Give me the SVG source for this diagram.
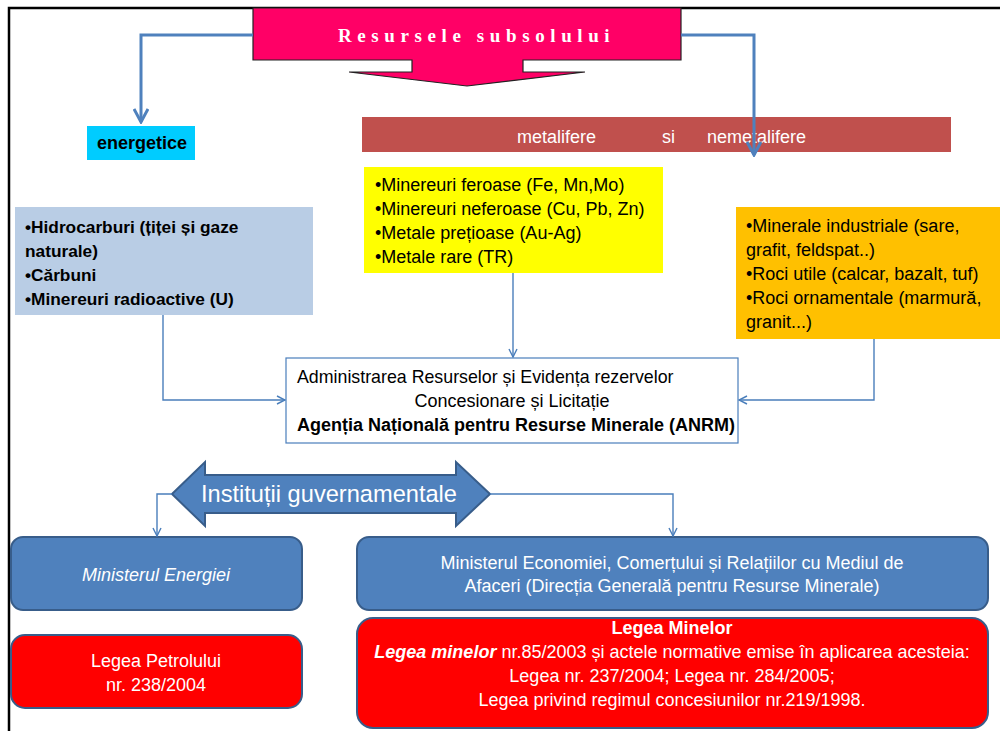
<svg xmlns="http://www.w3.org/2000/svg" width="1000" height="731" viewBox="0 0 1000 731">
  <defs>
    <style>
      .t { font-family: "Liberation Sans", Arial, sans-serif; font-size: 18px; fill: #000; }
      .w { fill: #fff; }
      .b { font-weight: bold; }
      .i { font-style: italic; }
      .mid { text-anchor: middle; }
      .link { fill: none; stroke: #4a7ebb; stroke-width: 1.4; }
      .thick { fill: none; stroke: #4f81bd; stroke-width: 3; }
      .min { fill: #4f81bd; stroke: #385d8a; stroke-width: 2; }
      .law { fill: #ff0000; stroke: #385d8a; stroke-width: 2; }
    </style>
    <marker id="ah" viewBox="0 0 10 10" refX="9" refY="5" markerWidth="10" markerHeight="10" markerUnits="userSpaceOnUse" orient="auto">
      <path d="M1,1 L9,5 L1,9" fill="none" stroke="#4a7ebb" stroke-width="1.4"/>
    </marker>
    <marker id="ahb" viewBox="0 0 16 16" refX="14" refY="8" markerWidth="16" markerHeight="16" markerUnits="userSpaceOnUse" orient="auto">
      <path d="M1,1 L14,8 L1,15" fill="none" stroke="#4f81bd" stroke-width="3"/>
    </marker>
  </defs>

  <rect width="1000" height="731" fill="#fff"/>

  <!-- page frame -->
  <path d="M9,731 V8 H1000" fill="none" stroke="#000" stroke-width="2.5"/>

  <!-- title callout -->
  <g id="title">
    <path d="M253,8 H681 V60 H523 V72 H585 L467,86 L349,72 H412 V60 H253 Z" fill="#ff0066" stroke="#222" stroke-width="1.2"/>
    <text class="t w b" x="338" y="42" style="font-family:'Liberation Serif',serif;font-size:19px;letter-spacing:5.6px">Resursele subsolului</text>
  </g>

  <g id="energetice">
    <rect x="87" y="126" width="108" height="34" fill="#00ccff"/>
    <text class="t b" x="97" y="149">energetice</text>
  </g>

  <g id="metalifere">
    <rect x="362" y="117" width="589" height="35" fill="#c0504d"/>
    <text class="t w" y="143"><tspan x="517">metalifere</tspan><tspan x="662">si</tspan><tspan x="707">nemetalifere</tspan></text>
  </g>

  <g id="metale">
    <rect x="364" y="167" width="299" height="106" fill="#ffff00"/>
    <text class="t" x="375" y="191">•Minereuri feroase (Fe, Mn,Mo)</text>
    <text class="t" x="375" y="215">•Minereuri neferoase (Cu, Pb, Zn)</text>
    <text class="t" x="375" y="239">•Metale prețioase (Au-Ag)</text>
    <text class="t" x="375" y="263">•Metale rare (TR)</text>
  </g>

  <g id="hidrocarburi">
    <rect x="15" y="207" width="298" height="108" fill="#b9cde5"/>
    <text class="t b" x="25" y="233" style="font-size:17.3px">•Hidrocarburi (țiței și gaze</text>
    <text class="t b" x="25" y="257" style="font-size:17.3px">naturale)</text>
    <text class="t b" x="25" y="281" style="font-size:17.3px">•Cărbuni</text>
    <text class="t b" x="25" y="305" style="font-size:17.3px">•Minereuri radioactive (U)</text>
  </g>

  <g id="nemetalifere">
    <rect x="736" y="207" width="270" height="132" fill="#ffc000"/>
    <text class="t" x="746" y="232">•Minerale industriale (sare,</text>
    <text class="t" x="746" y="256">grafit, feldspat..)</text>
    <text class="t" x="746" y="280">•Roci utile (calcar, bazalt, tuf)</text>
    <text class="t" x="746" y="304">•Roci ornamentale (marmură,</text>
    <text class="t" x="746" y="328">granit...)</text>
  </g>

  <g id="anrm">
    <rect x="286" y="358" width="452" height="85" fill="#fff" stroke="#4a7ebb" stroke-width="1.2"/>
    <text class="t" x="297" y="383" style="font-size:17.8px">Administrarea Resurselor și Evidența rezervelor</text>
    <text class="t mid" x="512" y="407">Concesionare și Licitație</text>
    <text class="t b" x="297" y="431">Agenția Națională pentru Resurse Minerale (ANRM)</text>
  </g>

  <g id="institutii">
    <path d="M172,494 L205,462 V475 H456 V462 L490,494 L456,526 V513 H205 V526 Z" fill="#4f81bd" stroke="#385d8a" stroke-width="2"/>
    <text class="t w" x="201" y="502" style="font-size:24.5px" textLength="256" lengthAdjust="spacingAndGlyphs">Instituții guvernamentale</text>
  </g>

  <g id="min-energiei">
    <rect class="min" x="11" y="537" width="291" height="73" rx="12"/>
    <text class="t w i mid" x="156" y="581">Ministerul Energiei</text>
  </g>

  <g id="min-economiei">
    <rect class="min" x="357" y="537" width="631" height="73" rx="12"/>
    <text class="t w mid" x="672" y="569">Ministerul Economiei, Comerțului și Relațiilor cu Mediul de</text>
    <text class="t w mid" x="672" y="592">Afaceri (Direcția Generală pentru Resurse Minerale)</text>
  </g>

  <g id="legea-petrolului">
    <rect class="law" x="11" y="635" width="291" height="73" rx="14"/>
    <text class="t w mid" x="156" y="667">Legea Petrolului</text>
    <text class="t w mid" x="156" y="691">nr. 238/2004</text>
  </g>

  <g id="legea-minelor">
    <rect class="law" x="357" y="618" width="631" height="110" rx="16"/>
    <text class="t w b mid" x="672" y="634">Legea Minelor</text>
    <text class="t w mid" x="672" y="658"><tspan class="b i">Legea minelor</tspan> nr.85/2003 și actele normative emise în aplicarea acesteia:</text>
    <text class="t w mid" x="672" y="682">Legea nr. 237/2004; Legea nr. 284/2005;</text>
    <text class="t w mid" x="672" y="706">Legea privind regimul concesiunilor nr.219/1998.</text>
  </g>

  <!-- connectors -->
  <g id="connectors">
    <path class="thick" d="M253,35 H141 V122" marker-end="url(#ahb)"/>
    <path class="thick" d="M681,35 H754 V155" marker-end="url(#ahb)"/>
    <path class="link" d="M163,315 V400 H285" marker-end="url(#ah)"/>
    <path class="link" d="M513,273 V357" marker-end="url(#ah)"/>
    <path class="link" d="M874,339 V400 H739" marker-end="url(#ah)"/>
    <path class="link" d="M172,494 H157 V536" marker-end="url(#ah)"/>
    <path class="link" d="M490,494 H673 V536" marker-end="url(#ah)"/>
  </g>
</svg>
